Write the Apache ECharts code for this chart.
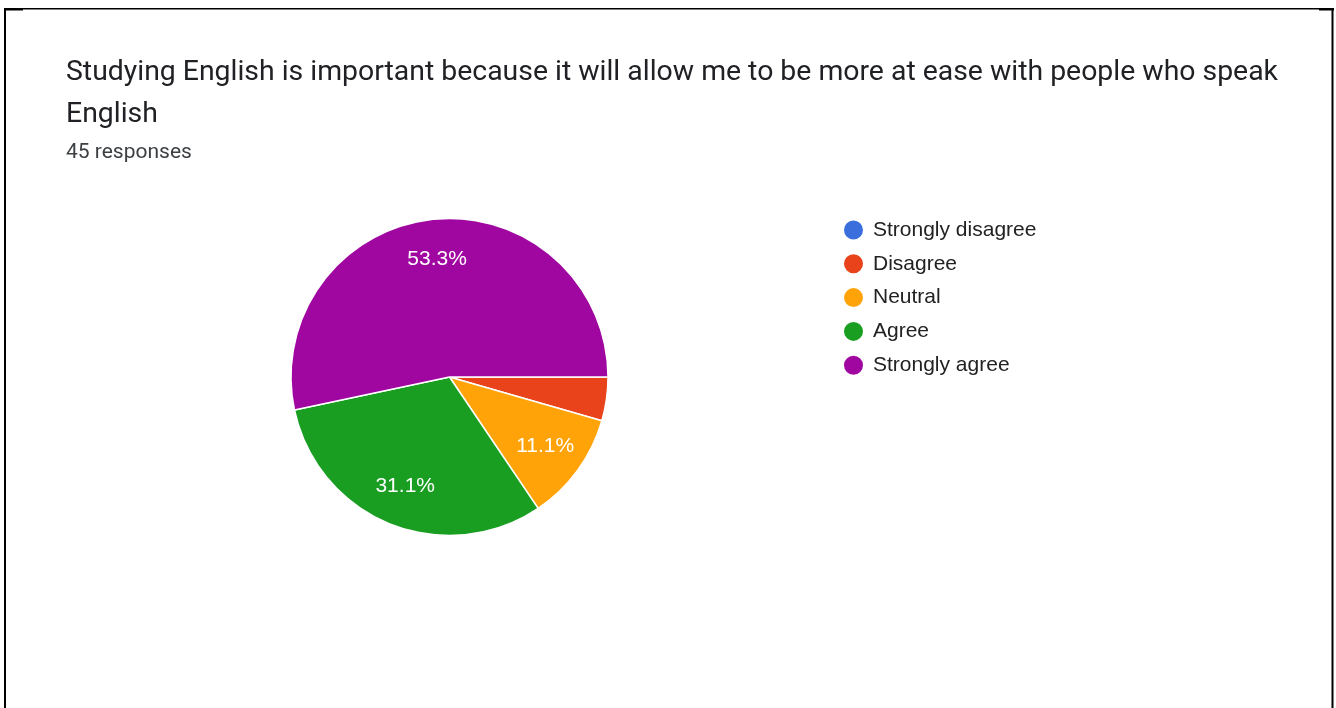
<!DOCTYPE html>
<html>
<head>
<meta charset="utf-8">
<script src="https://cdn.jsdelivr.net/npm/echarts@6/dist/echarts.min.js"></script>
<style>
  html, body { margin: 0; padding: 0; background: #ffffff; }
  #chart { width: 1336px; height: 708px; }
</style>
</head>
<body>
<div id="chart"></div>
<script>
// Survey answers (45 responses)
const categories = ['Strongly disagree', 'Disagree', 'Neutral', 'Agree', 'Strongly agree'];
const counts = [0, 2, 5, 14, 24];
const colors = ['#3a6edc', '#e8431a', '#ffa308', '#1a9e22', '#a006a0'];
const questionTitle = 'Studying English is important because it will allow me to be more at ease with people who speak\nEnglish';
const responsesText = '45 responses';

const pieData = categories.map((name, i) => ({ name, value: counts[i], itemStyle: { color: colors[i] } }));

const cx = 449.5, cy = 377, R = 158.5;

const chart = echarts.init(document.getElementById('chart'), null, { renderer: 'canvas' });
chart.setOption({
  backgroundColor: '#ffffff',
  animation: false,
  title: {
    text: questionTitle,
    subtext: responsesText,
    left: 61,
    top: 47,
    itemGap: 6,
    textStyle: {
      fontFamily: 'Roboto',
      fontSize: 28.4,
      fontWeight: 'normal',
      color: '#202124',
      lineHeight: 42
    },
    subtextStyle: {
      fontFamily: 'Roboto',
      fontSize: 21,
      color: '#3c4043'
    }
  },
  legend: {
    orient: 'vertical',
    left: 837,
    top: 213.5,
    icon: 'circle',
    itemWidth: 21,
    itemHeight: 21,
    itemGap: 10.8,
    selectedMode: false,
    data: categories,
    textStyle: {
      fontFamily: 'Liberation Sans, Arial, sans-serif',
      fontSize: 21,
      lineHeight: 21,
      color: '#222222',
      padding: [0, 0, 0, 4]
    }
  },
  graphic: [
    { type: 'rect', shape: { x: 4, y: 8, width: 2, height: 700 }, style: { fill: '#000' } },
    { type: 'rect', shape: { x: 4, y: 8, width: 1330, height: 1.5 }, style: { fill: '#000' } },
    { type: 'rect', shape: { x: 4, y: 8, width: 19, height: 2.5 }, style: { fill: '#000' } },
    { type: 'rect', shape: { x: 1319, y: 8, width: 15, height: 2.5 }, style: { fill: '#000' } },
    { type: 'rect', shape: { x: 1331.5, y: 8, width: 2, height: 700 }, style: { fill: '#000' } }
  ],
  series: [
    {
      type: 'pie',
      center: [cx, cy],
      radius: [0, R],
      startAngle: 0,
      clockwise: true,
      silent: true,
      itemStyle: { borderColor: '#ffffff', borderWidth: 1.5 },
      label: { show: false },
      labelLine: { show: false },
      data: pieData
    },
    {
      // label ring: places the percentage text at about 73% of the radius
      type: 'pie',
      center: [cx, cy],
      radius: [R * 0.454, R],
      startAngle: 0,
      clockwise: true,
      silent: true,
      percentPrecision: 1,
      itemStyle: { color: 'rgba(0,0,0,0)', borderWidth: 0 },
      label: {
        show: true,
        position: 'inside',
        color: '#ffffff',
        fontFamily: 'Liberation Sans, Arial, sans-serif',
        fontSize: 21,
        formatter: p => (p.percent >= 5 ? p.percent.toFixed(1) + '%' : '')
      },
      labelLine: { show: false },
      data: categories.map((name, i) => ({ name, value: counts[i] }))
    }
  ]
});
</script>
</body>
</html>
